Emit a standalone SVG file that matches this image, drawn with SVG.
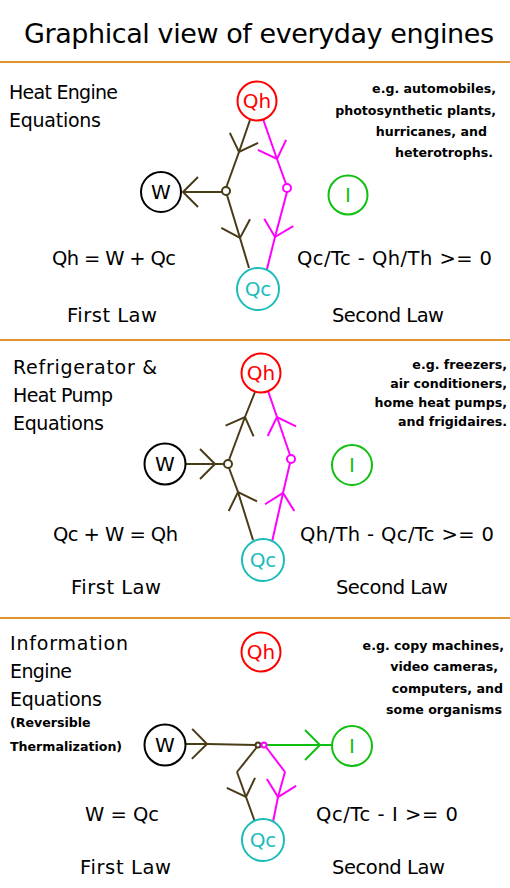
<svg xmlns="http://www.w3.org/2000/svg" width="510" height="888" viewBox="0 0 510 888">
<style>
.t{font-family:"DejaVu Sans","Liberation Sans",sans-serif;fill:#000}
.h{font-size:19px}
.e{font-size:19.5px}
.s{font-size:12.6px;font-weight:bold;text-anchor:end}
.sl{font-size:12.6px;font-weight:bold}
.n{font-family:"DejaVu Sans","Liberation Sans",sans-serif;font-size:20px;text-anchor:middle}
.sep{stroke:#e0952a;stroke-width:2}
.c{fill:#fff;stroke-width:2}
.br{stroke:#4a3c18;stroke-width:2;fill:none}
.mg{stroke:#ff00ff;stroke-width:2;fill:none}
.gr{stroke:#10c010;stroke-width:2;fill:none}
</style>
<defs>
<marker id="aB" markerUnits="userSpaceOnUse" markerWidth="40" markerHeight="40" viewBox="-20 -20 40 40" refX="0" refY="0" orient="auto"><path d="M-15,-15 L0,0 L-15,15" fill="none" stroke="#4a3c18" stroke-width="2"/></marker>
<marker id="aM" markerUnits="userSpaceOnUse" markerWidth="40" markerHeight="40" viewBox="-20 -20 40 40" refX="0" refY="0" orient="auto"><path d="M-15,-15 L0,0 L-15,15" fill="none" stroke="#ff00ff" stroke-width="2"/></marker>
<marker id="aG" markerUnits="userSpaceOnUse" markerWidth="40" markerHeight="40" viewBox="-20 -20 40 40" refX="0" refY="0" orient="auto"><path d="M-15,-15 L0,0 L-15,15" fill="none" stroke="#10c010" stroke-width="2"/></marker>
</defs>
<rect width="510" height="888" fill="#fff"/>
<text class="t" x="24" y="43" font-size="27" textLength="470">Graphical view of everyday engines</text>
<g id="separators">
<line class="sep" x1="0" y1="62" x2="510" y2="62"/>
<line class="sep" x1="0" y1="340" x2="510" y2="340"/>
<line class="sep" x1="0" y1="618" x2="510" y2="618"/>
</g>

<g id="connectors">
<path class="br" d="M250,120 L239,152 L226,188" marker-mid="url(#aB)"/>
<path class="br" d="M222,192 L183,192" marker-end="url(#aB)"/>
<path class="br" d="M227,195 L240,238 L249,268" marker-mid="url(#aB)"/>
<path class="mg" d="M263,119 L277,159 L286,184" marker-mid="url(#aM)"/>
<path class="mg" d="M287,192 L275,237 L267,269" marker-mid="url(#aM)"/>
<circle class="br" cx="226" cy="191" r="4"/>
<circle class="mg" cx="287" cy="188" r="4"/>
<path class="br" d="M186,464 L215,464 L224,464" marker-mid="url(#aB)"/>
<path class="br" d="M229,460 L245,417 L255,392" marker-mid="url(#aB)"/>
<path class="br" d="M253,540 L238,492 L229,468" marker-mid="url(#aB)"/>
<path class="mg" d="M272,542 L283,493 L290,463" marker-mid="url(#aM)"/>
<path class="mg" d="M290,455 L277,417 L267,388" marker-mid="url(#aM)"/>
<circle class="br" cx="228" cy="464" r="4"/>
<circle class="mg" cx="291" cy="459" r="4"/>
<path class="br" d="M186,744 L207,744 L256,745" marker-mid="url(#aB)"/>
<path class="gr" d="M267,745 L320,745 L333,745" marker-mid="url(#aG)"/>
<path class="br" d="M257,747 L237,772"/>
<path class="br" d="M237,772 L246,797 L255,822" marker-mid="url(#aB)"/>
<path class="mg" d="M266,747 L285,772"/>
<path class="mg" d="M285,772 L278,797 L273,822" marker-mid="url(#aM)"/>
<circle class="br" cx="258" cy="745" r="2.5" stroke-width="1.5"/>
<circle class="mg" cx="264" cy="745" r="2.5" stroke-width="1.5"/>
</g>

<g id="panel1-Qh"><circle class="c" cx="257" cy="101" r="19.5" stroke="#ff0000"/><text class="n" x="257" y="108" fill="#ff0000">Qh</text></g>
<g id="panel1-W"><circle class="c" cx="161" cy="192" r="20" stroke="#000"/><text class="n" x="161" y="199" fill="#000">W</text></g>
<g id="panel1-I"><circle class="c" cx="348" cy="195" r="19.5" stroke="#10c010"/><text class="n" x="348" y="202" fill="#10c010">I</text></g>
<g id="panel1-Qc"><circle class="c" cx="258" cy="289" r="21" stroke="#1cbcbc"/><text class="n" x="258" y="296" fill="#1cbcbc">Qc</text></g>

<g id="panel2-Qh"><circle class="c" cx="261" cy="373" r="19.5" stroke="#ff0000"/><text class="n" x="261" y="380" fill="#ff0000">Qh</text></g>
<g id="panel2-W"><circle class="c" cx="165" cy="464" r="20.5" stroke="#000"/><text class="n" x="165" y="471" fill="#000">W</text></g>
<g id="panel2-I"><circle class="c" cx="352" cy="465" r="20" stroke="#10c010"/><text class="n" x="352" y="472" fill="#10c010">I</text></g>
<g id="panel2-Qc"><circle class="c" cx="263" cy="560" r="21" stroke="#1cbcbc"/><text class="n" x="263" y="567" fill="#1cbcbc">Qc</text></g>

<g id="panel3-Qh"><circle class="c" cx="261" cy="652" r="19.5" stroke="#ff0000"/><text class="n" x="261" y="659" fill="#ff0000">Qh</text></g>
<g id="panel3-W"><circle class="c" cx="165" cy="745" r="20.5" stroke="#000"/><text class="n" x="165" y="752" fill="#000">W</text></g>
<g id="panel3-I"><circle class="c" cx="352" cy="746" r="20" stroke="#10c010"/><text class="n" x="352" y="753" fill="#10c010">I</text></g>
<g id="panel3-Qc"><circle class="c" cx="263" cy="840" r="21" stroke="#1cbcbc"/><text class="n" x="263" y="847" fill="#1cbcbc">Qc</text></g>

<g id="panel1-text">
<text class="t h" x="9" y="99" textLength="109">Heat Engine</text>
<text class="t h" x="9" y="127" textLength="92">Equations</text>
<text class="t s" x="496" y="93">e.g. automobiles,</text>
<text class="t s" x="496" y="115">photosynthetic plants,</text>
<text class="t s" x="487" y="136">hurricanes, and</text>
<text class="t s" x="493" y="157">heterotrophs.</text>
<text class="t e" x="52" y="265" textLength="124">Qh = W + Qc</text>
<text class="t e" x="297" y="265" textLength="195">Qc/Tc - Qh/Th &gt;= 0</text>
<text class="t e" x="67" y="322" textLength="90">First Law</text>
<text class="t e" x="332" y="322" textLength="112">Second Law</text>
</g>
<g id="panel2-text">
<text class="t h" x="13" y="374" textLength="144">Refrigerator &amp;</text>
<text class="t h" x="13" y="402" textLength="100">Heat Pump</text>
<text class="t h" x="13" y="430" textLength="91">Equations</text>
<text class="t s" x="507" y="369">e.g. freezers,</text>
<text class="t s" x="507" y="388">air conditioners,</text>
<text class="t s" x="507" y="407">home heat pumps,</text>
<text class="t s" x="507" y="426">and frigidaires.</text>
<text class="t e" x="53" y="541" textLength="125">Qc + W = Qh</text>
<text class="t e" x="300" y="541" textLength="194">Qh/Th - Qc/Tc &gt;= 0</text>
<text class="t e" x="71" y="594" textLength="90">First Law</text>
<text class="t e" x="336" y="594" textLength="112">Second Law</text>
</g>
<g id="panel3-text">
<text class="t h" x="10" y="650" textLength="118">Information</text>
<text class="t h" x="10" y="678" textLength="62">Engine</text>
<text class="t h" x="10" y="706" textLength="92">Equations</text>
<text class="t sl" x="10" y="727">(Reversible</text>
<text class="t sl" x="10" y="751">Thermalization)</text>
<text class="t s" x="504" y="650">e.g. copy machines,</text>
<text class="t s" x="498" y="671">video cameras,</text>
<text class="t s" x="503" y="693">computers, and</text>
<text class="t s" x="502" y="714">some organisms</text>
<text class="t e" x="122" y="821" text-anchor="middle">W = Qc</text>
<text class="t e" x="316" y="821" textLength="142">Qc/Tc - I &gt;= 0</text>
<text class="t e" x="80" y="874" textLength="91">First Law</text>
<text class="t e" x="332" y="874" textLength="113">Second Law</text>
</g>
</svg>
